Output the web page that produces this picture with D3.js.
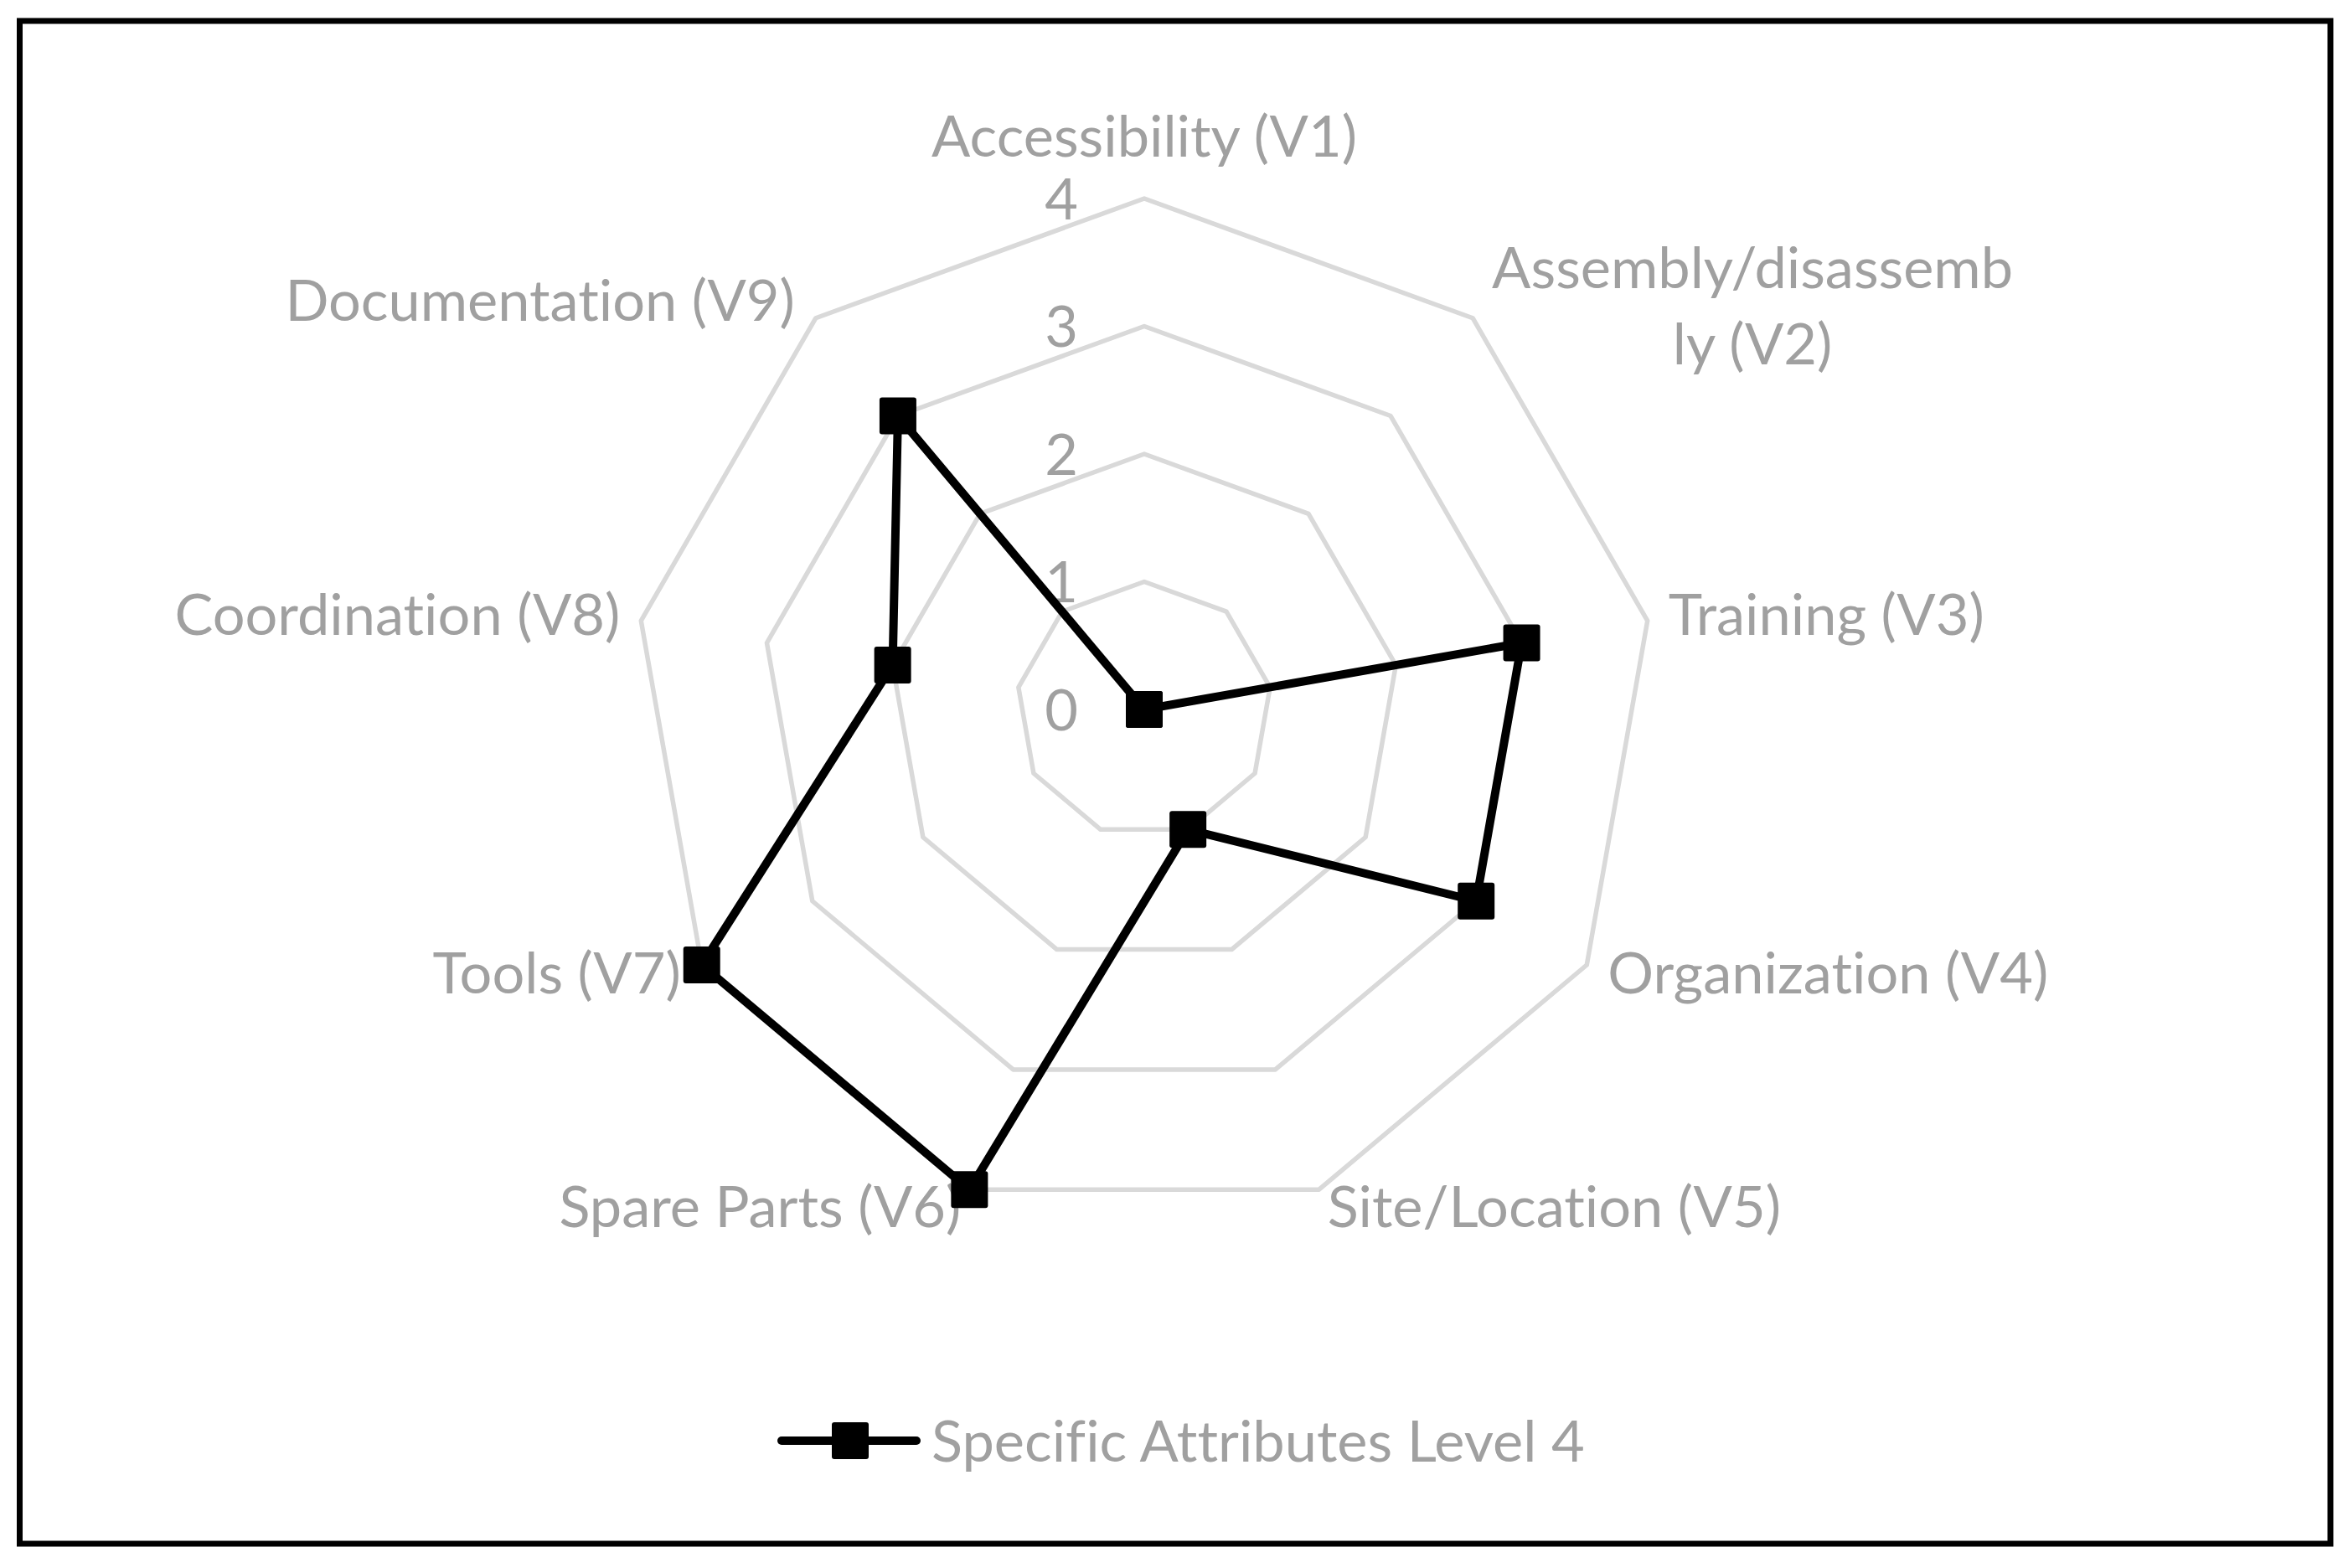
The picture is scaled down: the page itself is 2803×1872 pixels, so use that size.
<!DOCTYPE html>
<head>
  <meta charset="utf-8">
  <script src="https://cdnjs.cloudflare.com/ajax/libs/d3/7.8.5/d3.min.js"></script>
  <style>
    body { margin:0; background:#fff; }
    #vis { width:2803px; height:1872px; }
    text { font-family: Lato, "Open Sans", sans-serif; fill:#a0a0a0; font-variant-ligatures: none; }
  </style>
</head>
<body>
  <div id="vis"></div>
  <script>
    var categories = ["Accessibility (V1)", "Assembly/disassembly (V2)", "Training (V3)",
      "Organization (V4)", "Site/Location (V5)", "Spare Parts (V6)", "Tools (V7)",
      "Coordination (V8)", "Documentation (V9)"];
    var values = [0, 0, 3, 3, 1, 4, 4, 2, 3];
    var ticks = [0, 1, 2, 3, 4];
    var seriesName = "Specific Attributes Level 4";

    var width = 2803, height = 1872;
    var cx = 1366, cy = 847, R = 610;
    var fs = 68.5;

    var svg = d3.select("#vis").append("svg")
      .attr("width", width)
      .attr("height", height);

    svg.append("rect")
      .attr("x", 23.5).attr("y", 25)
      .attr("width", 2782 - 23.5).attr("height", 1843 - 25)
      .attr("fill", "none").attr("stroke", "#000").attr("stroke-width", 7);

    var r = d3.scaleLinear().domain([0, 4]).range([0, R]);
    var angle = d3.scaleLinear().domain([0, categories.length]).range([0, 2 * Math.PI]);

    var g = svg.append("g").attr("transform", "translate(" + cx + "," + cy + ")");

    // rings
    var ring = d3.lineRadial().curve(d3.curveLinearClosed)
      .angle(function(d, i) { return angle(i); })
      .radius(function(d) { return r(d); });

    ticks.forEach(function(t) {
      g.append("path")
        .attr("d", ring(categories.map(function() { return t; })))
        .attr("fill", "none")
        .attr("stroke", "#d9d9d9")
        .attr("stroke-width", 5.5)
        .attr("stroke-linejoin", "round");
    });

    // tick labels
    g.selectAll(".tick").data(ticks).enter().append("text")
      .attr("class", "tick")
      .attr("x", -79)
      .attr("y", function(d) { return -r(d); })
      .attr("dy", "0.36em")
      .attr("text-anchor", "end")
      .style("font-size", fs + "px")
      .text(function(d) { return d; });

    // category labels
    function pt(i, rad) {
      var a = angle(i);
      return [rad * Math.sin(a), -rad * Math.cos(a)];
    }
    categories.forEach(function(c, i) {
      var p = pt(i, R);
      var s = Math.sin(angle(i));
      var t = g.append("text").style("font-size", fs + "px").attr("dy", "0.36em");
      if (i === 0) {
        t.attr("x", 0).attr("y", p[1] - 75).attr("text-anchor", "middle").text(c);
      } else if (i === 1) {
        t.attr("text-anchor", "middle").attr("dy", null);
        t.append("tspan").attr("x", p[0] + 334).attr("y", p[1] - 60).attr("dy", "0.36em").text("Assembly/disassemb");
        t.append("tspan").attr("x", p[0] + 334).attr("y", p[1] + 31).attr("dy", "0.36em").text("ly (V2)");
      } else {
        var yoff = (i === 4 || i === 5) ? 20 : (i === 8 ? -21 : (i === 2 || i === 7 ? -8 : 9));
        t.attr("x", p[0] + (s > 0 ? 1 : -1) * (i === 4 || i === 5 ? 10 : 25))
          .attr("y", p[1] + yoff)
          .attr("text-anchor", s > 0 ? "start" : "end")
          .text(c);
      }
    });

    // series
    g.append("path")
      .attr("d", ring(values))
      .attr("fill", "none")
      .attr("stroke", "#000")
      .attr("stroke-width", 10)
      .attr("stroke-linejoin", "round");

    var ms = 44;
    g.selectAll(".mark").data(values).enter().append("rect")
      .attr("class", "mark")
      .attr("x", function(d, i) { return pt(i, r(d))[0] - ms / 2; })
      .attr("y", function(d, i) { return pt(i, r(d))[1] - ms / 2; })
      .attr("width", ms).attr("height", ms).attr("rx", 3)
      .attr("fill", "#000");

    // legend
    var lg = svg.append("g").attr("transform", "translate(0,1720)");
    lg.append("line").attr("x1", 933).attr("x2", 1094).attr("y1", 0).attr("y2", 0)
      .attr("stroke", "#000").attr("stroke-width", 10).attr("stroke-linecap", "round");
    lg.append("rect").attr("x", 1015 - ms / 2).attr("y", -ms / 2)
      .attr("width", ms).attr("height", ms).attr("rx", 3).attr("fill", "#000");
    lg.append("text").attr("x", 1112).attr("y", 0).attr("dy", "0.36em")
      .style("font-size", fs + "px").text(seriesName);
  </script>
</body>
